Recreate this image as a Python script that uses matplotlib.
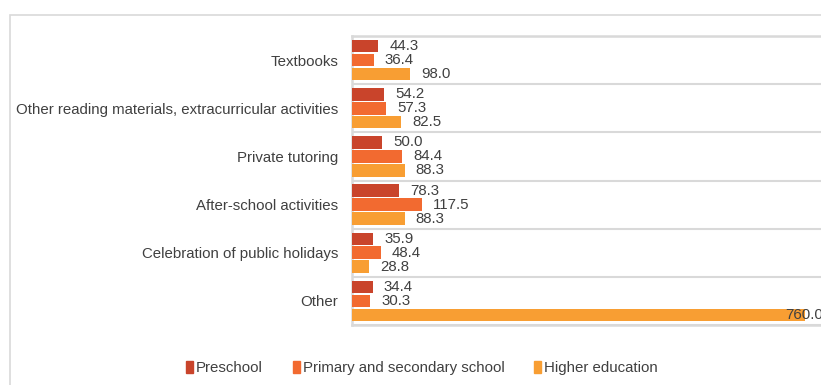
import numpy as np
import matplotlib.pyplot as plt
from matplotlib.patches import Rectangle, Patch

plt.rcParams['font.family'] = ['Liberation Sans', 'DejaVu Sans']

# Data
categories = ["Textbooks",
              "Other reading materials, extracurricular activities",
              "Private tutoring",
              "After-school activities",
              "Celebration of public holidays",
              "Other"]
series_names = ["Preschool", "Primary and secondary school", "Higher education"]
preschool = [44.3, 54.2, 50.0, 78.3, 35.9, 34.4]
primary_secondary = [36.4, 57.3, 84.4, 117.5, 48.4, 30.3]
higher_education = [98.0, 82.5, 88.3, 88.3, 28.8, 760.0]

colors = ["#C9442B", "#F26A30", "#F89E33"]
text_color = "#404040"
line_color = "#D9D9D9"

fig = plt.figure(figsize=(8.21, 3.85), dpi=100)

# outer chart border (runs off the right and bottom edges)
fig.patches.append(Rectangle((10 / 821, -0.05), 1.0, 1 - 15 / 385 + 0.05,
                             transform=fig.transFigure, fill=False,
                             edgecolor=line_color, linewidth=1.2))

ax = fig.add_axes([352 / 821, 1 - 325 / 385, 1 - 352 / 821, (325 - 36) / 385])

y = np.arange(len(categories))
h = 0.26
offsets = [-0.29, 0.0, 0.29]
xmax = 787
ax.set_xlim(0, xmax)

for vals, name, col, off in zip([preschool, primary_secondary, higher_education],
                                series_names, colors, offsets):
    bars = ax.barh(y + off, vals, height=h, color=col, label=name, zorder=3)
    for b, v in zip(bars, vals):
        if v > xmax * 0.9:
            dx = -14
        else:
            dx = 8
        ax.annotate(f"{v:.1f}", (v, b.get_y() + b.get_height() / 2),
                    xytext=(dx, 0), textcoords="offset points",
                    ha="left", va="center", fontsize=10.8, color=text_color,
                    annotation_clip=False)

ax.set_ylim(len(categories) - 0.5, -0.5)
ax.set_yticks(y)
ax.set_yticklabels(categories, fontsize=10.8, color=text_color)
ax.set_yticks(np.arange(-0.5, len(categories)), minor=True)
ax.tick_params(axis="y", which="both", length=0, pad=10)
ax.set_xticks([])
ax.grid(axis="y", which="minor", color=line_color, linewidth=1.5, zorder=1)

for s in ["left", "top", "bottom"]:
    ax.spines[s].set_color(line_color)
    ax.spines[s].set_linewidth(1.8)
ax.spines["right"].set_visible(False)

handles = [Patch(color=c) for c in colors]
fig.legend(handles, series_names, loc="center", bbox_to_anchor=(0.514, 0.044),
           ncol=3, frameon=False, fontsize=10.8, handlelength=0.45,
           handleheight=0.9, handletextpad=0.2, columnspacing=2.0,
           labelcolor=text_color)

fig.savefig("out.png", dpi=100)
